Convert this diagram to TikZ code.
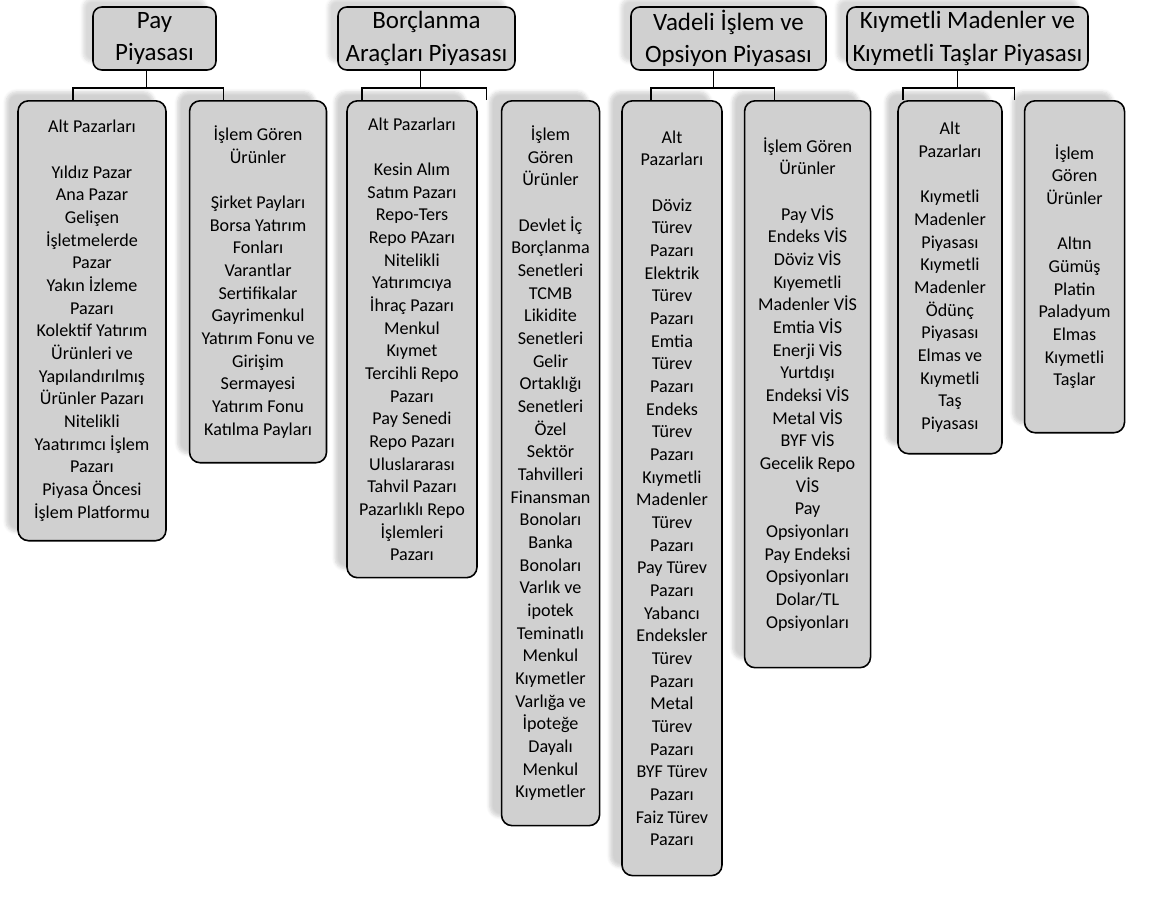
\documentclass[tikz,border=0pt]{standalone}
\usepackage{fontspec}
\setmainfont{Carlito}
\usepackage{tikz}
\usetikzlibrary{positioning,shadows.blur}
\definecolor{boxgray}{RGB}{208,208,208}
\definecolor{wmgray}{RGB}{244,244,244}

\begin{document}
\begin{tikzpicture}[
  x=0.02cm,
  y=-0.02cm,
  head/.style={
    draw=black,
    fill=boxgray,
    line width=.9pt,
    rounded corners=5pt,
    align=center,
    inner sep=1pt,
    minimum height=1.26cm,
    font=\fontsize{14.2}{18.5}\selectfont,
    blur shadow={shadow xshift=-.2cm,shadow yshift=.16cm,
      shadow blur steps=6,shadow opacity=15}
  },
  leaf/.style={
    draw=black,
    fill=boxgray,
    line width=.9pt,
    rounded corners=6pt,
    align=center,
    anchor=north,
    inner sep=1pt,
    font=\fontsize{10.3}{12.9}\selectfont,
    blur shadow={shadow xshift=-.24cm,shadow yshift=.18cm,
      shadow blur steps=6,shadow opacity=18}
  },
  link/.style={line width=1pt,black}
]
\useasboundingbox (0,0) rectangle (1150,904);

% top level
\node[head,minimum width=2.46cm] (hpay) at (154.5,38.5) {Pay\\Piyasası};
\node[head,minimum width=3.54cm] (hborc) at (426.5,38.5)
  {Borçlanma\\Araçları Piyasası};
\node[head,minimum width=3.9cm] (hvad) at (728.5,38.5)
  {Vadeli İşlem ve\\Opsiyon Piyasası};
\node[head,minimum width=4.82cm] (hkiy) at (967.5,38.5)
  {Kıymetli Madenler ve\\Kıymetli Taşlar Piyasası};

% Pay Piyasası
\node[leaf,minimum width=2.96cm,minimum height=8.8cm] (payalt) at (92,100)
  {Alt Pazarları\\[12.9pt]
   Yıldız Pazar\\Ana Pazar\\Gelişen\\İşletmelerde\\Pazar\\
   Yakın İzleme\\Pazarı\\Kolektif Yatırım\\Ürünleri ve\\
   Yapılandırılmış\\Ürünler Pazarı\\Nitelikli\\Yaatırımcı İşlem\\
   Pazarı\\Piyasa Öncesi\\İşlem Platformu};
\node[leaf,minimum width=2.74cm,minimum height=7.24cm,
  right=.44cm of payalt.north east,anchor=north west] (payurun)
  {İşlem Gören\\Ürünler\\[12.9pt]
   Şirket Payları\\Borsa Yatırım\\Fonları\\Varantlar\\Sertifikalar\\
   Gayrimenkul\\Yatırım Fonu ve\\Girişim\\Sermayesi\\Yatırım Fonu\\
   Katılma Payları};

% Borçlanma Araçları Piyasası
\node[leaf,minimum width=2.6cm,minimum height=9.54cm] (borcalt) at (412,100)
  {Alt Pazarları\\[12.9pt]
   Kesin Alım\\Satım Pazarı\\Repo-Ters\\Repo PAzarı\\Nitelikli\\
   Yatırımcıya\\İhraç Pazarı\\Menkul\\Kıymet\\Tercihli Repo\\Pazarı\\
   Pay Senedi\\Repo Pazarı\\Uluslararası\\Tahvil Pazarı\\
   Pazarlıklı Repo\\İşlemleri\\Pazarı};
\node[leaf,minimum width=1.96cm,minimum height=14.5cm,
  right=.46cm of borcalt.north east,anchor=north west] (borcurun)
  {İşlem\\Gören\\Ürünler\\[12.9pt]
   Devlet İç\\Borçlanma\\Senetleri\\TCMB\\Likidite\\Senetleri\\Gelir\\
   Ortaklığı\\Senetleri\\Özel\\Sektör\\Tahvilleri\\Finansman\\
   Bonoları\\Banka\\Bonoları\\Varlık ve\\ipotek\\Teminatlı\\Menkul\\
   Kıymetler\\Varlığa ve\\İpoteğe\\Dayalı\\Menkul\\Kıymetler};

% Vadeli İşlem ve Opsiyon Piyasası
\node[leaf,minimum width=2cm,minimum height=15.5cm] (vadalt) at (672,100)
  {Alt\\Pazarları\\[12.9pt]
   Döviz\\Türev\\Pazarı\\Elektrik\\Türev\\Pazarı\\Emtia\\Türev\\Pazarı\\
   Endeks\\Türev\\Pazarı\\Kıymetli\\Madenler\\Türev\\Pazarı\\
   Pay Türev\\Pazarı\\Yabancı\\Endeksler\\Türev\\Pazarı\\Metal\\Türev\\
   Pazarı\\BYF Türev\\Pazarı\\Faiz Türev\\Pazarı};
\node[leaf,minimum width=2.52cm,minimum height=11.34cm,
  right=.42cm of vadalt.north east,anchor=north west] (vadurun)
  {İşlem Gören\\Ürünler\\[12.9pt]
   Pay VİS\\Endeks VİS\\Döviz VİS\\Kıyemetli\\Madenler VİS\\Emtia VİS\\
   Enerji VİS\\Yurtdışı\\Endeksi VİS\\Metal VİS\\BYF VİS\\Gecelik Repo\\
   VİS\\Pay\\Opsiyonları\\Pay Endeksi\\Opsiyonları\\Dolar/TL\\
   Opsiyonları};

% Kıymetli Madenler ve Kıymetli Taşlar Piyasası
\node[leaf,minimum width=2.08cm,minimum height=7.06cm] (kiyalt) at (950,100)
  {Alt\\Pazarları\\[12.9pt]
   Kıymetli\\Madenler\\Piyasası\\Kıymetli\\Madenler\\Ödünç\\Piyasası\\
   Elmas ve\\Kıymetli\\Taş\\Piyasası};
\node[leaf,minimum width=2cm,minimum height=6.64cm,
  right=.42cm of kiyalt.north east,anchor=north west] (kiyurun)
  {İşlem\\Gören\\Ürünler\\[12.9pt]
   Altın\\Gümüş\\Platin\\Paladyum\\Elmas\\Kıymetli\\Taşlar};

% connectors (drops sit left of the box centres, as in the original)
\foreach \h/\hs/\a/\as/\b/\bs in {hpay/-.16/payalt/-.38/payurun/-.69,
    hborc/-.12/borcalt/-1/borcurun/-1.28,
    hvad/-.3/vadalt/-.42/vadurun/-.66,
    hkiy/-.2/kiyalt/-.94/kiyurun/-1.2}{
  \draw[link] ([xshift=\as cm]\a.north) -- ++(0,-12)
    -| ([xshift=\hs cm]\h.south);
  \draw[link] ([xshift=\bs cm]\b.north) -- ++(0,-12)
    -| ([xshift=\hs cm]\h.south);
}
\end{tikzpicture}
\end{document}
